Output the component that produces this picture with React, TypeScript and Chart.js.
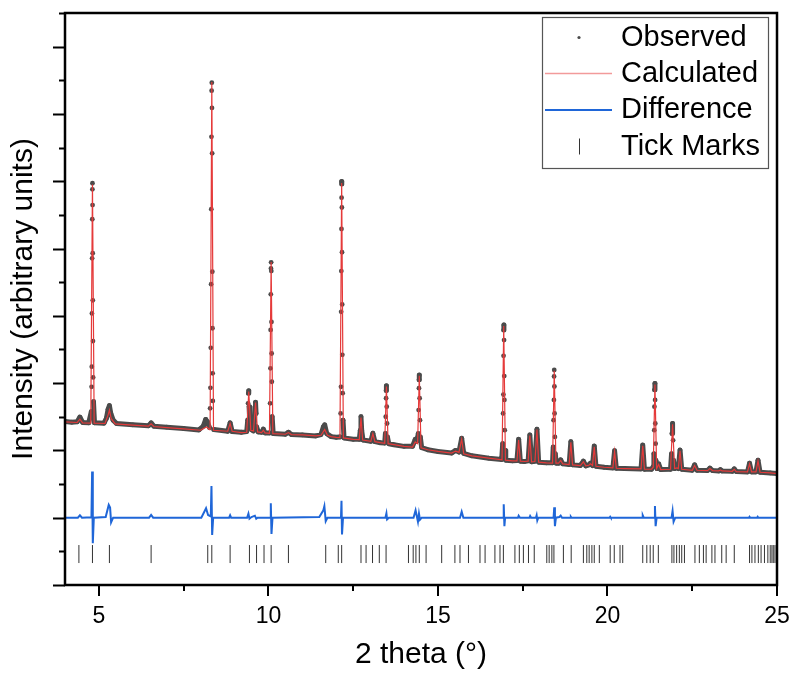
import React, { useEffect, useRef } from "react";
import { Chart, registerables } from "chart.js";

Chart.register(...registerables);

// ---- axis ticks ----
const xMajorTicks = [5, 10, 15, 20, 25];
const xMinorTicks = [7.5, 12.5, 17.5, 22.5];
const yMajorTicks = [0, 2, 4, 6, 8, 10, 12, 14, 16];
const yMinorTicks = [1, 3, 5, 7, 9, 11, 13, 15, 17];

const legendLabels = ["Observed", "Calculated", "Difference", "Tick Marks"];

// ---- observed profile (2θ, intensity) ----
const observed: [number, number][] = [
  [4.00,4.86],[4.20,4.84],[4.36,4.85],[4.44,4.99],[4.52,4.83],
  [4.70,4.82],[4.775,5.15],[4.785,5.89],[4.79,6.49],[4.795,8.07],[4.80,9.71],[4.805,10.87],[4.808,11.76],[4.81,11.94],[4.813,11.29],[4.817,9.86],[4.82,8.46],[4.825,7.25],[4.83,6.17],[4.84,5.45],[4.87,4.82],
  [5.15,4.81],[5.22,4.95],[5.27,5.22],[5.31,5.33],[5.35,5.10],[5.42,4.90],[5.52,4.80],
  [6.00,4.76],[6.46,4.73],[6.54,4.82],[6.62,4.72],
  [7.00,4.69],[7.50,4.65],[7.95,4.61],[8.08,4.72],[8.15,4.92],[8.20,4.85],[8.26,4.68],
  [8.28,5.25],[8.29,5.86],[8.30,7.05],[8.31,8.94],[8.315,11.17],[8.32,13.32],[8.325,14.69],[8.33,14.93],[8.335,14.18],[8.34,12.83],[8.345,9.31],[8.35,7.63],[8.355,6.29],[8.36,5.47],[8.39,4.62],
  [8.80,4.57],[8.87,4.82],[8.93,4.56],
  [9.20,4.54],[9.36,4.56],[9.39,4.90],[9.40,5.40],[9.41,5.70],[9.42,5.77],[9.43,5.30],[9.45,4.80],[9.50,4.62],[9.56,4.58],[9.59,4.90],[9.61,5.30],[9.62,5.43],[9.635,5.10],[9.65,4.70],[9.70,4.55],
  [9.80,4.54],[9.85,4.63],[9.90,4.52],
  [10.03,4.52],[10.05,5.40],[10.06,6.44],[10.065,7.58],[10.07,8.64],[10.075,9.41],[10.08,9.59],[10.085,9.33],[10.09,7.82],[10.095,6.88],[10.10,6.04],[10.11,5.00],[10.14,4.50],
  [10.50,4.48],[10.59,4.54],[10.68,4.47],
  [11.00,4.46],[11.40,4.43],[11.55,4.47],[11.62,4.70],[11.66,4.76],[11.72,4.50],[11.85,4.41],
  [12.00,4.39],[12.11,4.40],[12.13,5.10],[12.14,5.89],[12.145,8.12],[12.15,9.33],[12.155,10.58],[12.158,11.51],[12.16,11.99],[12.163,11.92],[12.166,11.22],[12.17,9.89],[12.175,8.34],[12.18,6.84],[12.19,5.70],[12.20,4.90],[12.23,4.37],
  [12.50,4.33],[12.68,4.33],[12.71,4.60],[12.73,5.00],[12.75,4.60],[12.79,4.31],
  [13.02,4.27],[13.08,4.51],[13.14,4.26],
  [13.30,4.23],[13.43,4.22],[13.45,4.50],[13.46,5.00],[13.47,5.55],[13.475,5.78],[13.48,5.92],[13.49,5.30],[13.50,4.80],[13.51,4.40],[13.55,4.20],
  [13.70,4.17],[14.00,4.12],[14.25,4.12],[14.33,4.33],[14.38,4.28],[14.42,4.50],[14.43,5.20],[14.44,5.85],[14.445,6.10],[14.45,6.24],[14.46,5.55],[14.47,4.90],[14.48,4.40],[14.52,4.08],
  [14.70,4.02],[15.00,3.97],[15.40,3.92],[15.52,4.00],[15.62,3.95],[15.70,4.36],[15.76,3.91],
  [16.00,3.84],[16.50,3.77],[16.88,3.73],[16.91,4.20],[16.92,5.10],[16.93,5.66],[16.935,6.81],[16.94,7.58],[16.945,7.73],[16.95,7.28],[16.955,6.21],[16.96,5.50],[16.97,4.60],[16.98,4.00],[17.00,3.71],
  [17.20,3.69],[17.33,3.70],[17.38,4.33],[17.43,3.68],
  [17.55,3.67],[17.66,3.69],[17.71,4.46],[17.76,3.66],
  [17.86,3.68],[17.92,4.63],[17.97,3.65],
  [18.20,3.63],[18.38,3.63],[18.40,4.10],[18.41,4.90],[18.42,5.50],[18.425,6.20],[18.43,6.39],[18.435,5.90],[18.44,5.10],[18.45,4.40],[18.46,3.90],[18.49,3.62],
  [18.56,3.62],[18.62,3.72],[18.68,3.60],
  [18.87,3.58],[18.92,4.26],[18.97,3.57],
  [19.20,3.55],[19.29,3.68],[19.36,3.54],
  [19.45,3.57],[19.50,3.62],[19.56,3.55],[19.61,4.13],[19.66,3.53],
  [19.90,3.50],[20.16,3.48],[20.21,3.99],[20.26,3.47],
  [20.50,3.46],[20.99,3.45],[21.04,4.16],[21.09,3.44],
  [21.30,3.44],[21.35,3.52],[21.37,3.90],[21.38,4.60],[21.385,5.30],[21.39,5.80],[21.40,5.99],[21.405,5.50],[21.41,4.80],[21.42,4.20],[21.43,3.70],[21.46,3.46],[21.51,3.60],[21.57,3.43],
  [21.86,3.44],[21.89,3.90],[21.905,4.50],[21.92,4.80],[21.935,4.30],[21.95,3.70],[21.98,3.46],[22.05,3.49],[22.09,3.46],[22.14,4.01],[22.19,3.44],
  [22.50,3.41],[22.57,3.57],[22.64,3.41],
  [22.95,3.40],[23.02,3.47],[23.10,3.40],
  [23.28,3.39],[23.33,3.43],[23.38,3.39],
  [23.68,3.38],[23.74,3.45],[23.80,3.37],
  [24.13,3.36],[24.19,3.62],[24.25,3.36],[24.38,3.36],[24.44,3.71],[24.50,3.35],
  [24.80,3.33],[25.00,3.31],
];

// ---- calculated profile ----
const calculated: [number, number][] = [
  [4.00,4.85],[4.36,4.83],[4.44,4.93],[4.52,4.82],
  [4.76,4.81],[4.81,11.90],[4.86,4.81],
  [5.18,4.80],[5.27,5.05],[5.31,5.20],[5.36,4.95],[5.48,4.79],
  [6.00,4.75],[6.46,4.72],[6.54,4.79],[6.62,4.71],
  [7.00,4.68],[7.50,4.64],[8.00,4.60],[8.10,4.66],[8.18,4.70],[8.26,4.62],
  [8.28,4.62],[8.33,14.95],[8.38,4.60],
  [8.80,4.57],[8.87,4.80],[8.93,4.57],
  [9.20,4.53],[9.36,4.54],[9.42,5.75],[9.48,4.60],[9.56,4.58],[9.62,5.42],[9.68,4.55],
  [9.80,4.53],[9.85,4.60],[9.90,4.52],
  [10.03,4.51],[10.08,9.60],[10.13,4.50],
  [10.50,4.48],[10.59,4.53],[10.68,4.47],
  [11.00,4.46],[11.40,4.43],[11.55,4.45],[11.66,4.62],[11.74,4.45],[11.85,4.41],
  [12.00,4.39],[12.11,4.38],[12.16,11.95],[12.21,4.37],
  [12.50,4.33],[12.68,4.32],[12.73,4.98],[12.78,4.31],
  [13.02,4.27],[13.08,4.50],[13.14,4.26],
  [13.30,4.23],[13.43,4.21],[13.48,5.90],[13.53,4.20],
  [13.70,4.17],[14.00,4.12],[14.25,4.10],[14.33,4.25],[14.40,4.20],[14.45,6.22],[14.50,4.08],
  [14.70,4.02],[15.00,3.97],[15.40,3.92],[15.52,3.98],[15.62,3.94],[15.70,4.34],[15.76,3.90],
  [16.00,3.84],[16.50,3.77],[16.89,3.72],[16.94,7.70],[16.99,3.71],
  [17.20,3.69],[17.33,3.69],[17.38,4.31],[17.43,3.68],
  [17.55,3.67],[17.66,3.68],[17.71,4.44],[17.76,3.66],
  [17.86,3.67],[17.92,4.62],[17.97,3.65],
  [18.20,3.63],[18.38,3.62],[18.43,6.37],[18.48,3.62],
  [18.56,3.62],[18.62,3.70],[18.68,3.60],
  [18.87,3.58],[18.92,4.24],[18.97,3.57],
  [19.20,3.55],[19.29,3.66],[19.36,3.54],
  [19.45,3.56],[19.50,3.60],[19.56,3.55],[19.61,4.11],[19.66,3.53],
  [19.90,3.50],[20.16,3.48],[20.21,3.97],[20.26,3.47],
  [20.50,3.46],[20.99,3.45],[21.04,4.14],[21.09,3.44],
  [21.30,3.44],[21.35,3.50],[21.40,5.96],[21.45,3.46],[21.51,3.58],[21.57,3.43],
  [21.86,3.44],[21.92,4.78],[21.98,3.46],[22.05,3.48],[22.09,3.46],[22.14,3.99],[22.19,3.44],
  [22.50,3.41],[22.57,3.55],[22.64,3.41],
  [22.95,3.40],[23.02,3.46],[23.10,3.40],
  [23.28,3.39],[23.33,3.42],[23.38,3.39],
  [23.68,3.38],[23.74,3.44],[23.80,3.37],
  [24.13,3.36],[24.19,3.60],[24.25,3.36],[24.38,3.36],[24.44,3.69],[24.50,3.35],
  [24.80,3.33],[25.00,3.31],
];

// ---- difference curve (offset) ----
const difference: [number, number][] = [
  [4.00,2.00],[4.38,2.00],[4.44,2.07],[4.50,2.00],[4.78,2.01],[4.80,3.37],[4.82,1.24],[4.85,2.00],
  [5.20,2.02],[5.29,2.38],[5.33,2.30],[5.36,1.86],[5.42,2.00],[6.48,2.00],[6.54,2.08],[6.60,2.00],
  [8.02,2.00],[8.12,2.20],[8.16,2.28],[8.22,2.08],[8.30,2.04],[8.32,2.94],[8.34,1.49],[8.37,2.00],
  [8.84,2.00],[8.87,2.07],[8.90,2.00],[9.37,2.00],[9.41,2.12],[9.44,1.97],[9.50,2.02],[9.60,2.06],[9.64,1.97],[9.68,2.00],
  [10.05,2.00],[10.07,2.43],[10.09,1.52],[10.12,2.00],[11.50,2.02],[11.62,2.22],[11.65,2.34],[11.69,1.90],[11.74,2.00],
  [12.14,2.00],[12.155,2.50],[12.17,1.50],[12.20,2.00],[13.45,2.00],[13.48,2.13],[13.50,1.95],[13.55,2.00],
  [14.28,2.00],[14.34,2.22],[14.41,1.88],[14.44,2.12],[14.47,1.94],[14.52,2.00],[15.65,2.00],[15.70,2.18],[15.75,2.00],
  [16.92,2.00],[16.94,2.40],[16.96,1.75],[16.98,2.00],[17.36,2.00],[17.38,2.06],[17.42,2.00],[17.70,2.00],[17.72,2.05],[17.75,2.00],
  [17.89,2.00],[17.91,2.07],[17.93,1.92],[17.96,2.00],[18.41,2.00],[18.43,2.31],[18.45,1.75],[18.48,2.00],
  [18.58,2.02],[18.62,2.06],[18.66,2.00],[18.90,2.00],[18.92,2.03],[18.94,2.00],[20.06,2.00],[20.08,2.03],[20.10,2.00],
  [21.02,2.00],[21.04,2.07],[21.07,2.00],[21.38,2.00],[21.40,2.35],[21.42,1.75],[21.45,2.00],
  [21.89,2.00],[21.92,2.20],[21.95,1.88],[22.00,2.00],[24.17,2.00],[24.19,2.03],[24.21,2.00],[24.41,2.00],[24.43,2.03],[24.45,2.00],[25.00,2.00],
];

// ---- reflection positions (tick marks) ----
const tickMarkPositions = [
  4.41, 4.81, 5.31, 6.54, 8.21, 8.33, 8.87, 9.44, 9.65, 9.87, 10.08, 10.59, 11.69, 12.06, 12.16,
  12.73, 12.88, 13.07, 13.27, 13.47, 14.13, 14.27, 14.35, 14.45, 14.65, 15.11, 15.50, 15.65, 15.90,
  16.24, 16.39, 16.68, 16.83, 16.93, 17.27, 17.40, 17.52, 17.67, 17.84, 18.21, 18.28, 18.36, 18.42,
  18.70, 18.93, 19.29, 19.39, 19.46, 19.54, 19.61, 19.76, 20.08, 20.20, 20.37, 20.45, 21.04, 21.16,
  21.26, 21.35, 21.50, 21.90, 21.96, 22.04, 22.12, 22.19, 22.27, 22.58, 22.71, 22.83, 22.91, 23.08,
  23.17, 23.37, 23.50, 23.74, 24.19, 24.26, 24.35, 24.45, 24.53, 24.63, 24.73, 24.80, 24.85, 24.89, 24.94,
];
const tickMarkLevel = 0.92;

const FONT = "'Liberation Sans', Arial, Helvetica, sans-serif";
const OBS_COLOR = "#4b4b4b";
const CALC_COLOR = "#e53a3a";
const CALC_LEGEND_COLOR = "#f29a9a";
const DIFF_COLOR = "#1f66d8";
const TICK_COLOR = "#333333";

const framePlugin = {
  id: "frameAndLegend",
  afterDraw(chart: any) {
    const { ctx, chartArea: a, scales } = chart;
    const xs = scales.x;
    const ys = scales.y;
    ctx.save();
    // tick marks on axes
    ctx.strokeStyle = "#000";
    ctx.lineWidth = 2;
    ctx.beginPath();
    for (const v of yMajorTicks) {
      const y = Math.round(ys.getPixelForValue(v)) + 0.5;
      ctx.moveTo(a.left - 12, y);
      ctx.lineTo(a.left, y);
    }
    for (const v of yMinorTicks) {
      const y = Math.round(ys.getPixelForValue(v)) + 0.5;
      ctx.moveTo(a.left - 6, y);
      ctx.lineTo(a.left, y);
    }
    for (const v of xMajorTicks) {
      const x = Math.round(xs.getPixelForValue(v));
      ctx.moveTo(x, a.bottom);
      ctx.lineTo(x, a.bottom + 11);
    }
    for (const v of xMinorTicks) {
      const x = Math.round(xs.getPixelForValue(v));
      ctx.moveTo(x, a.bottom);
      ctx.lineTo(x, a.bottom + 6);
    }
    ctx.stroke();
    // frame
    ctx.lineWidth = 2.5;
    ctx.strokeRect(a.left, a.top, a.right - a.left, a.bottom - a.top);

    // legend
    const bx = 542.5, by = 17.5, bw = 226, bh = 151;
    ctx.fillStyle = "#fff";
    ctx.fillRect(bx, by, bw, bh);
    ctx.lineWidth = 1.2;
    ctx.strokeStyle = "#555";
    ctx.strokeRect(bx, by, bw, bh);
    const rows = [37.5, 73.5, 110, 146.5];
    const symX0 = 545, symX1 = 612, symC = 579;
    // observed dot
    ctx.fillStyle = OBS_COLOR;
    ctx.beginPath();
    ctx.arc(symC, rows[0], 1.6, 0, Math.PI * 2);
    ctx.fill();
    // calculated line
    ctx.strokeStyle = CALC_LEGEND_COLOR;
    ctx.lineWidth = 1.5;
    ctx.beginPath();
    ctx.moveTo(symX0, rows[1]);
    ctx.lineTo(symX1, rows[1]);
    ctx.stroke();
    // difference line
    ctx.strokeStyle = DIFF_COLOR;
    ctx.lineWidth = 2;
    ctx.beginPath();
    ctx.moveTo(symX0, rows[2]);
    ctx.lineTo(symX1, rows[2]);
    ctx.stroke();
    // tick mark
    ctx.strokeStyle = TICK_COLOR;
    ctx.lineWidth = 1;
    ctx.beginPath();
    ctx.moveTo(symC + 0.5, rows[3] - 8);
    ctx.lineTo(symC + 0.5, rows[3] + 8);
    ctx.stroke();
    // labels
    ctx.fillStyle = "#000";
    ctx.font = `29px ${FONT}`;
    ctx.textBaseline = "middle";
    ctx.textAlign = "left";
    legendLabels.forEach((t, i) => ctx.fillText(t, 621, rows[i]));
    ctx.restore();
  },
};

export default function App() {
  const ref = useRef<HTMLCanvasElement | null>(null);
  useEffect(() => {
    if (!ref.current) return;
    const toPts = (arr: [number, number][]) => arr.map(([x, y]) => ({ x, y }));
    const chart = new Chart(ref.current, {
      type: "scatter",
      data: {
        datasets: [
          {
            label: legendLabels[1],
            data: toPts(calculated),
            showLine: true,
            borderColor: CALC_COLOR,
            borderWidth: 1.2,
            pointRadius: 0,
            order: 0,
          },
          {
            label: legendLabels[0],
            data: toPts(observed),
            showLine: true,
            borderColor: OBS_COLOR,
            borderWidth: 5,
            borderJoinStyle: "round",
            borderCapStyle: "round",
            segment: {
              borderColor: (c: any) => {
                const dx = Math.abs(c.p1.x - c.p0.x);
                const dy = Math.abs(c.p1.y - c.p0.y);
                return dy > 6 && dy > 25 * dx ? "rgba(0,0,0,0)" : OBS_COLOR;
              },
            },
            pointRadius: 2.4,
            pointBorderWidth: 0,
            pointBackgroundColor: OBS_COLOR,
            order: 1,
          },
          {
            label: legendLabels[2],
            data: toPts(difference),
            showLine: true,
            borderColor: DIFF_COLOR,
            borderWidth: 2,
            pointRadius: 0,
            order: 2,
          },
          {
            label: legendLabels[3],
            data: tickMarkPositions.map((x) => ({ x, y: tickMarkLevel })),
            showLine: false,
            pointStyle: "line",
            rotation: 90,
            pointRadius: 9,
            borderColor: TICK_COLOR,
            borderWidth: 1,
            order: 3,
          },
        ],
      } as any,
      options: {
        animation: false,
        responsive: false,
        events: [],
        layout: { padding: { left: 0, right: 16, top: 13, bottom: 0 } },
        plugins: { legend: { display: false }, tooltip: { enabled: false } },
        scales: {
          x: {
            type: "linear",
            min: 4,
            max: 25,
            afterBuildTicks: (s: any) => {
              s.ticks = xMajorTicks.map((value) => ({ value }));
            },
            afterFit: (s: any) => {
              s.height = 93;
            },
            ticks: {
              color: "#000",
              padding: 0,
              font: { family: FONT, size: 23 },
              callback: (v: any) => String(v),
              maxRotation: 0,
            },
            grid: { display: false, drawTicks: true, tickLength: 18 },
            border: { display: false },
            title: {
              display: true,
              text: "2 theta (°)",
              color: "#000",
              font: { family: FONT, size: 30 },
              padding: { top: 0, bottom: 5 },
            },
          },
          y: {
            type: "linear",
            min: 0,
            max: 17,
            afterFit: (s: any) => {
              s.width = 65;
            },
            ticks: { display: false },
            grid: { display: false, drawTicks: false },
            border: { display: false },
            title: {
              display: true,
              text: "Intensity (arbitrary units)",
              color: "#000",
              font: { family: FONT, size: 30 },
              padding: { top: 6, bottom: 0 },
            },
          },
        },
      } as any,
      plugins: [framePlugin],
    });
    return () => chart.destroy();
  }, []);
  return (
    <div style={{ position: "absolute", left: 0, top: 0, width: 793, height: 678, background: "#fff" }}>
      <canvas ref={ref} width={793} height={678} style={{ width: 793, height: 678, display: "block" }} />
    </div>
  );
}
